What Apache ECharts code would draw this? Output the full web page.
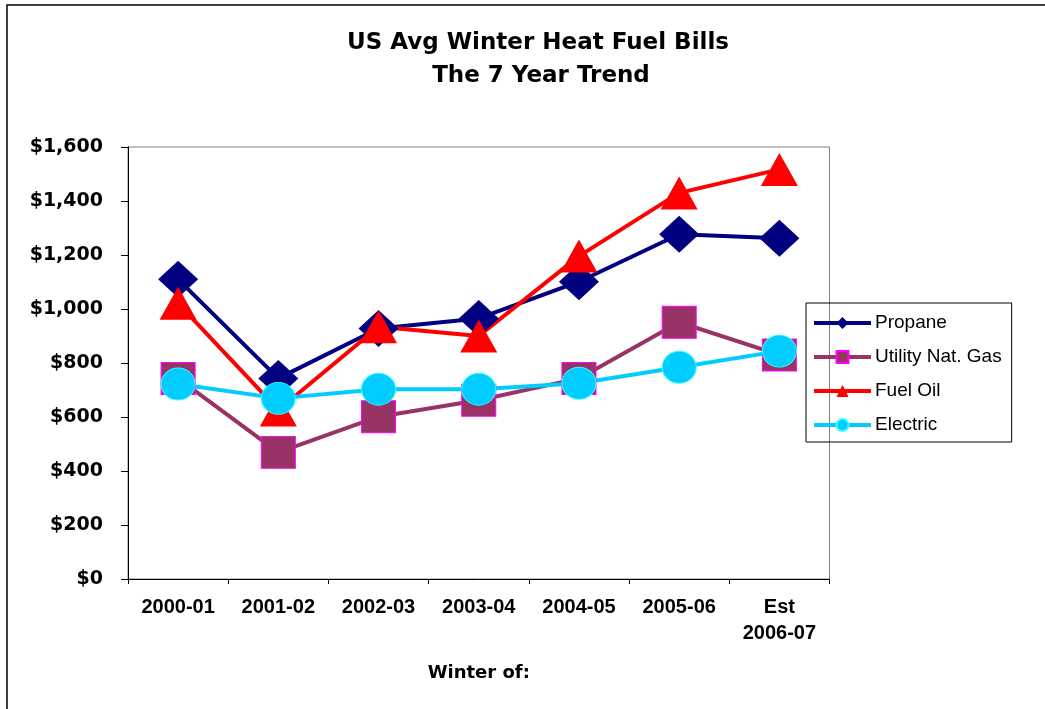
<!DOCTYPE html>
<html>
<head>
<meta charset="utf-8">
<script src="https://cdn.jsdelivr.net/npm/echarts@6/dist/echarts.min.js"></script>
<style>
html,body{margin:0;padding:0;background:#fff;}
#chart{width:1045px;height:709px;}
</style>
</head>
<body>
<div id="chart"></div>
<script>
const categories = ['2000-01', '2001-02', '2002-03', '2003-04', '2004-05', '2005-06', 'Est\n2006-07'];
const propane = [1110, 743, 928, 965, 1101, 1277, 1262];
const natGas = [743, 469, 601, 662, 743, 951, 830];
const fuelOil = [1021, 626, 934, 900, 1196, 1430, 1517];
const electric = [722, 669, 703, 703, 725, 784, 844];
const yTicks = {min: 0, max: 1600, interval: 200};
const titleLines = ['US Avg Winter Heat Fuel Bills', 'The 7 Year Trend'];
const xTitle = 'Winter of:';

const chart = echarts.init(document.getElementById('chart'), null, {renderer: 'canvas'});
const bold = "'DejaVu Sans', sans-serif";
const arial = "'Liberation Sans', Arial, sans-serif";

const option = {
  backgroundColor: '#ffffff',
  animation: false,
  graphic: [
    {type: 'rect', shape: {x: 7, y: 5, width: 1100, height: 800}, style: {fill: 'none', stroke: '#000', lineWidth: 1.5}, silent: true},
    {type: 'text', x: 538, y: 43, style: {text: titleLines[0], font: 'bold 23px ' + bold, fill: '#000', align: 'center', verticalAlign: 'middle'}},
    {type: 'text', x: 541, y: 76, style: {text: titleLines[1], font: 'bold 23px ' + bold, fill: '#000', align: 'center', verticalAlign: 'middle'}}
  ],
  grid: {left: 128, right: 215.5, top: 147, bottom: 130, show: true, borderColor: '#808080', borderWidth: 1, containLabel: false},
  legend: {
    orient: 'vertical', left: 806, top: 303,
    padding: [10, 10, 7, 6],
    itemWidth: 57, itemHeight: 15, itemGap: 14,
    borderColor: '#000', borderWidth: 1,
    lineStyle: {width: 4},
    textStyle: {fontFamily: arial, fontSize: 19, color: '#000', lineHeight: 20, padding: [0,0,0,-1]},
    data: ['Propane', 'Utility Nat. Gas', 'Fuel Oil', 'Electric']
  },
  xAxis: {
    type: 'category', data: categories, boundaryGap: true,
    axisLine: {lineStyle: {color: '#000', width: 1}},
    axisTick: {show: true, length: 5, inside: false, lineStyle: {color: '#000'}},
    axisLabel: {fontFamily: arial, fontWeight: 'bold', fontSize: 20, color: '#000', margin: 15, lineHeight: 26, interval: 0},
    name: xTitle, nameLocation: 'middle', nameGap: 85,
    nameTextStyle: {fontFamily: bold, fontWeight: 'bold', fontSize: 18, color: '#000'},
    splitLine: {show: false}
  },
  yAxis: {
    type: 'value', min: yTicks.min, max: yTicks.max, interval: yTicks.interval,
    axisLine: {show: true, lineStyle: {color: '#000', width: 1}},
    axisTick: {show: true, length: 7, lineStyle: {color: '#000'}},
    axisLabel: {fontFamily: bold, fontWeight: 'bold', fontSize: 19, color: '#000', margin: 25,
      formatter: v => '$' + v.toLocaleString('en-US')},
    splitLine: {show: false}
  },
  series: [
    {name: 'Propane', type: 'line', data: propane, symbol: 'diamond', symbolSize: [40, 37],
      lineStyle: {color: '#000080', width: 4}, itemStyle: {color: '#000080'}},
    {name: 'Utility Nat. Gas', type: 'line', data: natGas, symbol: 'rect', symbolSize: [34, 32],
      lineStyle: {color: '#993366', width: 4}, itemStyle: {color: '#993366', borderColor: '#FF00FF', borderWidth: 1}},
    {name: 'Fuel Oil', type: 'line', data: fuelOil, symbol: 'triangle', symbolSize: [37, 33],
      lineStyle: {color: '#FF0000', width: 4}, itemStyle: {color: '#FF0000'}},
    {name: 'Electric', type: 'line', data: electric, symbol: 'circle', symbolSize: [34, 32],
      lineStyle: {color: '#00CCFF', width: 4}, itemStyle: {color: '#00CCFF', borderColor: '#33FFFF', borderWidth: 1}}
  ]
};
chart.setOption(option);
</script>
</body>
</html>
